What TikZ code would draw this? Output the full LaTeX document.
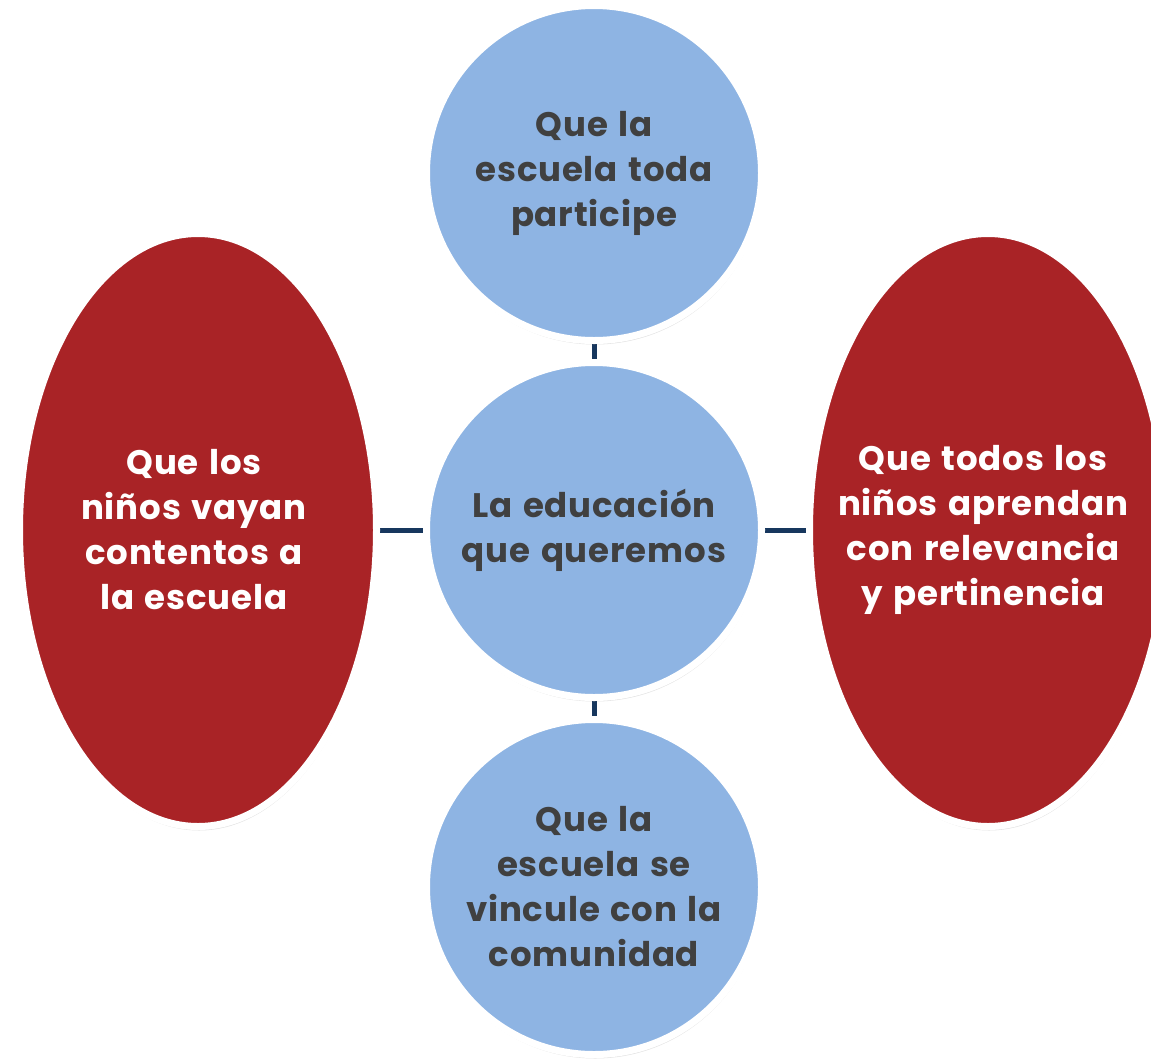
\documentclass[tikz,border=0pt]{standalone}
\usepackage{fontspec}
\setmainfont{Poppins}[LetterSpace=2.5,WordSpace=1.3]
\usetikzlibrary{shapes.geometric,shadows,backgrounds}
\definecolor{bluefill}{HTML}{8EB4E3}
\definecolor{redfill}{HTML}{A92326}
\definecolor{txtgray}{HTML}{404040}
\definecolor{navy}{HTML}{17375E}
\begin{document}
\begin{tikzpicture}[x=1pt,y=-1pt,
  lbl/.style={font=\fontsize{34}{45}\selectfont\bfseries, align=center, inner sep=0pt},
  bubble/.style={circle, fill=bluefill, draw=white, line width=7pt, minimum size=335pt, inner sep=0pt, text=txtgray, lbl,
    drop shadow={opacity=0.22, shadow xshift=1pt, shadow yshift=-4pt}},
  oval/.style={ellipse, fill=redfill, draw=white, line width=7pt, minimum width=357pt, minimum height=593pt, inner sep=0pt,
    drop shadow={opacity=0.22, shadow xshift=1pt, shadow yshift=-4pt}},
  ovaltext/.style={lbl, text=white},
  link/.style={draw=navy, line width=5pt}]
\useasboundingbox (0,0) rectangle (1151,1058);
\node[bubble] (top) at (594,173) {Que la\\escuela toda\\participe};
\node[bubble] (mid) at (594,530) {La educación\\que queremos};
\node[bubble] (bot) at (594,887) {Que la\\escuela se\\vincule con la\\comunidad};
\node[oval] (left) at (198,530) {};
\node[ovaltext] (lefttext) at (194,530) {Que los\\niños vayan\\contentos a\\la escuela};
\node[oval] (right) at (988,530) {};
\node[ovaltext] (righttext) at (983,530) {Que todos los\\niños aprendan\\con relevancia\\y pertinencia};
\begin{scope}[on background layer]
  \fill[white] (0,0) rectangle (1151,1058);
  \draw[link] (mid) -- (top);
  \draw[link] (mid) -- (bot);
  \draw[link] (mid) -- (left);
  \draw[link] (mid) -- (right);
\end{scope}
\end{tikzpicture}
\end{document}
